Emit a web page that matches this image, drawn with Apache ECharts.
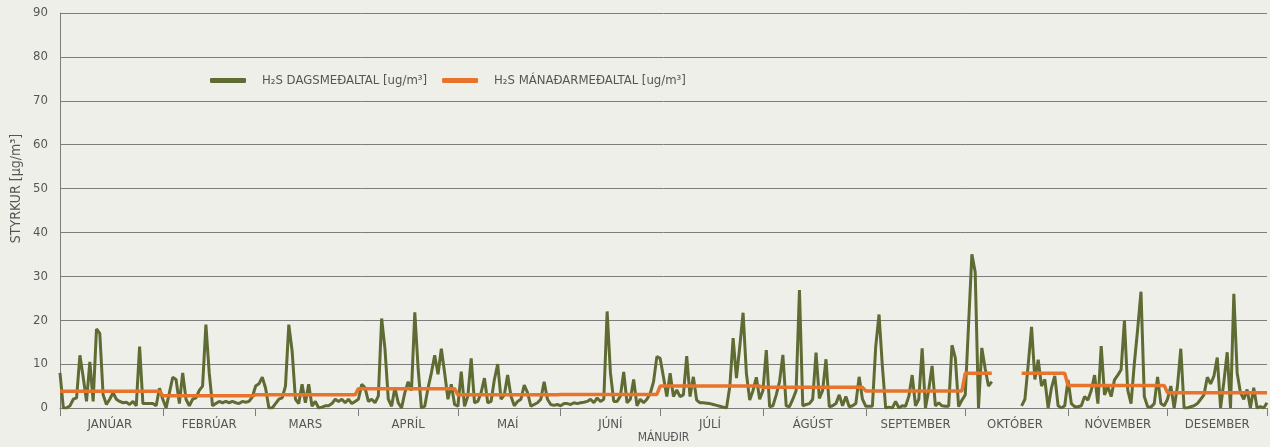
<!DOCTYPE html>
<html lang="is">
<head>
<meta charset="UTF-8">
<title>H2S styrkur</title>
<script src="https://cdn.jsdelivr.net/npm/echarts@6/dist/echarts.min.js"></script>
<style>html,body{margin:0;padding:0;background:#efefea;}</style>
</head>
<body>
<div id="chart" style="width:1270px;height:447px;"></div>
<script>
var months = ['JANÚAR', 'FEBRÚAR', 'MARS', 'APRÍL', 'MAÍ', 'JÚNÍ', 'JÚLÍ', 'ÁGÚST', 'SEPTEMBER', 'OKTÓBER', 'NÓVEMBER', 'DESEMBER'];
var daysInMonth = [31, 28, 31, 30, 31, 30, 31, 31, 30, 31, 30, 31];
// mánaðarmeðaltal H2S
var monthlyAvg = [3.8, 2.8, 3.0, 4.4, 3.0, 3.1, 5.0, 4.7, 3.9, 7.9, 5.1, 3.5];

// dagsmeðaltal H2S, einn listi fyrir hvern mánuð
var jan = [8, 0, 0, 0.5, 2, 2.3, 12, 7, 1.5, 10.5, 1.5, 18, 17, 3, 0.8, 2, 3.5, 2, 1.5, 1.2, 1.3, 0.8, 1.5, 0.5, 14, 1, 1, 1, 1, 0.5, 4.5];
var feb = [2, 0, 3.5, 7, 6.5, 1, 8, 2, 0.5, 2, 2.3, 4, 5, 19, 8, 0.5, 1, 1.5, 1.2, 1.5, 1.2, 1.5, 1.2, 1, 1.5, 1.3, 1.5, 2.5];
var mar = [5, 5.5, 7, 4.5, 0, 0, 1, 2, 2.3, 5, 19, 13, 2, 1, 5.4, 1.2, 5.4, 0.4, 1.5, 0, 0.2, 0.5, 0.5, 1, 2, 1.5, 2, 1.2, 2, 1, 1.5];
var apr = [2, 5.4, 4.6, 1.5, 2, 1.2, 2.7, 20.4, 13.5, 2, 0.4, 4.6, 1.2, 0, 3.5, 6, 4, 21.8, 9, 0, 0.4, 4.6, 8, 12, 7.7, 13.5, 8, 2, 5.4, 0.8];
var mai = [0.4, 8.3, 0.4, 2.7, 11.3, 1.2, 1.5, 3.5, 6.8, 1.2, 1.5, 6.5, 10, 2, 3, 7.5, 2.7, 0.5, 1.5, 2, 5.2, 3.5, 0.4, 0.8, 1.2, 2, 6, 2, 0.8, 0.6, 0.8];
var jun = [0.5, 1, 1, 0.8, 1.2, 1, 1.2, 1.3, 1.5, 2, 1.2, 2.3, 1.5, 2, 22, 8, 1.5, 1.5, 2.7, 8.2, 1.2, 2, 6.5, 0.5, 2, 1.2, 2, 3.3, 6, 11.7];
var jul = [11.3, 7, 2.6, 7.9, 2.6, 4.1, 2.6, 3, 11.8, 2.6, 7.1, 1.8, 1.2, 1.2, 1.1, 1, 0.8, 0.6, 0.4, 0.2, 0, 4.9, 15.9, 6.8, 14, 21.7, 7.9, 1.8, 4, 7, 2];
var agu = [4, 13.2, 0.3, 0.5, 3, 6, 12.1, 0.5, 0.3, 2, 4, 26.9, 0.5, 0.8, 1, 2, 12.6, 2.2, 4, 11.1, 0.3, 0.5, 1, 3, 0.5, 2.6, 0.3, 0.5, 1, 7.1, 2];
var sep = [0.4, 0.4, 0.4, 14, 21.3, 9.6, 0, 0.2, 0, 1.5, 0, 0.5, 0.4, 2.7, 7.5, 0.5, 2, 13.6, 0, 4.2, 9.6, 0.5, 1.2, 0.5, 0.4, 0.4, 14.3, 11.4, 0.3, 1.8];
var okt = [3, 19, 35, 31, 0, 13.7, 9, 5, 6, null, null, null, null, null, null, null, null, 0.5, 2, 10, 18.5, 6.5, 11, 5, 6.5, 0, 4.6, 7.3, 0.5, 0, 0.5];
var nov = [6.4, 1, 0.3, 0.3, 0.5, 2.6, 1.8, 4, 7.5, 1, 14.1, 3, 4.9, 2.6, 6.4, 7.5, 8.7, 19.9, 4.1, 1, 10.2, 18, 26.5, 2.6, 0.3, 0.2, 1, 7.1, 1, 0.5];
var des = [2, 5, 0, 5, 13.5, 0, 0, 0.3, 0.5, 1, 2, 3, 7, 5.5, 7.3, 11.5, 0, 6, 12.7, 0, 26, 8, 3.5, 2, 4.2, 0, 4.6, 0, 0.3, 0, 1.2];

var monthDaily = [jan, feb, mar, apr, mai, jun, jul, agu, sep, okt, nov, des];

var days = [], daily = [], monthly = [];
var tickIdx = {}, labelIdx = {};
monthDaily.forEach(function (arr, m) {
    tickIdx[days.length] = true;
    labelIdx[days.length + Math.floor(daysInMonth[m] / 2)] = m;
    arr.forEach(function (v, d) {
        days.push((d + 1) + '.' + (m + 1) + '.');
        daily.push(v);
        monthly.push(v === null ? null : monthlyAvg[m]);
    });
});
tickIdx[days.length - 1] = true;

var font = "'Liberation Sans Narrow','DejaVu Sans Condensed','Roboto',sans-serif";
var gridColor = '#7d7d7d';

var myChart = echarts.init(document.getElementById('chart'));
myChart.setOption({
    backgroundColor: '#efefea',
    animation: false,
    textStyle: {fontFamily: font},
    grid: {left: 60, right: 3, top: 13, bottom: 39, outerBoundsMode: 'none'},
    legend: {
        left: 205,
        top: 69,
        itemWidth: 36,
        itemHeight: 5,
        itemGap: 15,
        icon: 'roundRect',
        textStyle: {color: '#555', fontSize: 13, fontFamily: font, padding: [0, 0, 0, 11]},
        data: ['H₂S DAGSMEÐALTAL [ug/m³]', 'H₂S MÁNAÐARMEÐALTAL [ug/m³]']
    },
    xAxis: {
        type: 'category',
        data: days,
        boundaryGap: false,
        name: 'MÁNUÐIR',
        nameLocation: 'middle',
        nameGap: 24,
        nameMoveOverlap: false,
        nameTextStyle: {color: '#555', fontSize: 12},
        axisLine: {lineStyle: {color: gridColor, width: 1}},
        axisTick: {
            length: 8,
            lineStyle: {color: gridColor},
            interval: function (i) { return tickIdx[i] === true; }
        },
        axisLabel: {
            color: '#555',
            fontSize: 13,
            margin: 10,
            interval: function (i) { return labelIdx[i] !== undefined; },
            formatter: function (v, i) { return months[labelIdx[i]]; }
        },
        splitLine: {show: false}
    },
    yAxis: {
        type: 'value',
        min: 0,
        max: 90,
        interval: 10,
        name: 'STYRKUR [μg/m³]',
        nameLocation: 'middle',
        nameGap: 37,
        nameMoveOverlap: false,
        nameTextStyle: {color: '#555', fontSize: 14, padding: [0, 0, 0, 44]},
        axisLine: {show: true, lineStyle: {color: gridColor}},
        axisTick: {show: false},
        axisLabel: {color: '#555', fontSize: 13, margin: 12},
        splitLine: {lineStyle: {color: gridColor, width: 1}}
    },
    series: [
        {
            name: 'H₂S DAGSMEÐALTAL [ug/m³]',
            type: 'line',
            data: daily,
            symbol: 'none',
            connectNulls: false,
            lineStyle: {color: '#5e6b33', width: 3},
            itemStyle: {color: '#5e6b33'}
        },
        {
            name: 'H₂S MÁNAÐARMEÐALTAL [ug/m³]',
            type: 'line',
            data: monthly,
            symbol: 'none',
            connectNulls: false,
            lineStyle: {color: '#e8732b', width: 3.5},
            itemStyle: {color: '#e8732b'}
        }
    ]
});
</script>
</body>
</html>
